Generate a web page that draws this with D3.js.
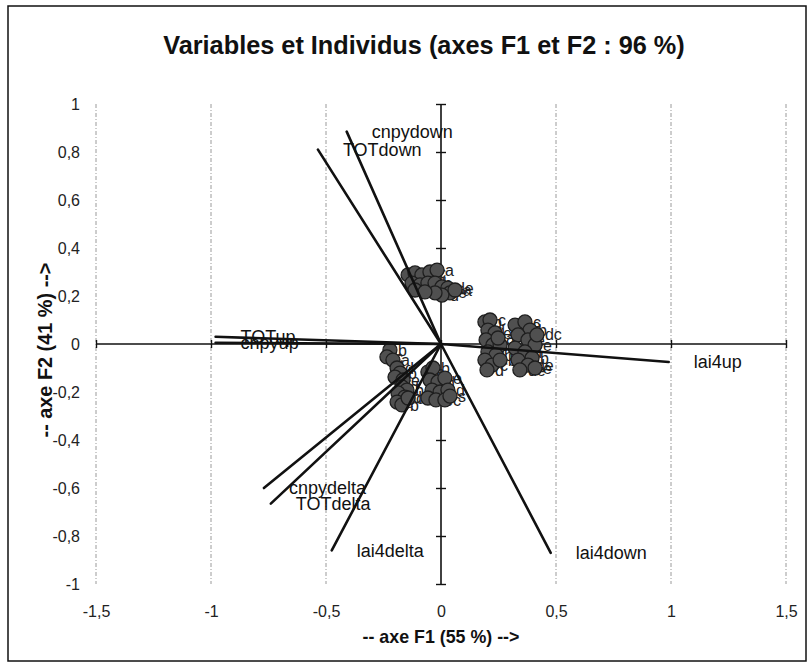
<!DOCTYPE html>
<html>
<head>
<meta charset="utf-8">
<script src="https://cdn.jsdelivr.net/npm/d3@7"></script>
<style>
  html, body { margin: 0; padding: 0; background: #fff; }
  svg { display: block; font-family: "Liberation Sans", Arial, sans-serif; }
</style>
</head>
<body>
<svg id="chart" width="812" height="667"></svg>
<script>
// Axis ticks
const xTicks = [-1.5, -1, -0.5, 0, 0.5, 1, 1.5];
const yTicks = [-1, -0.8, -0.6, -0.4, -0.2, 0, 0.2, 0.4, 0.6, 0.8, 1];

// Variables (correlation circle coordinates on F1, F2)
const varNames = ["cnpydown", "TOTdown", "TOTup", "cnpyup", "lai4up", "cnpydelta", "TOTdelta", "lai4delta", "lai4down"];
const varF1 = [-0.41, -0.535, -0.98, -0.98, 0.99, -0.77, -0.74, -0.475, 0.477];
const varF2 = [0.885, 0.81, 0.03, 0.005, -0.075, -0.60, -0.665, -0.86, -0.87];

// Individuals (scores on F1, F2) and their labels
const indF1 = [
  -0.143, -0.113, -0.083, -0.048, -0.017, -0.126, -0.091, -0.057, -0.026, 0.004, 0.030, 0.039, 0.004, -0.026, -0.113, -0.070, 0.061,
  0.191, 0.213, 0.204, 0.235, 0.196, 0.226, 0.257, 0.204, 0.239, 0.191, 0.222, 0.200, 0.257, 0.248,
  0.322, 0.365, 0.387, 0.335, 0.378, 0.409, 0.322, 0.365, 0.396, 0.335, 0.378, 0.343, 0.409, 0.417,
  -0.222, -0.235, -0.209, -0.191, -0.178, -0.200, -0.165, -0.170, -0.148, -0.187, -0.157, -0.191, -0.170, -0.143,
  -0.057, -0.035, -0.048, -0.013, 0.017, -0.039, -0.004, 0.030, -0.057, -0.022, 0.017, 0.039
];
const indF2 = [
  0.288, 0.296, 0.288, 0.300, 0.308, 0.254, 0.246, 0.254, 0.254, 0.238, 0.233, 0.213, 0.204, 0.213, 0.225, 0.217, 0.225,
  0.092, 0.100, 0.058, 0.046, 0.017, -0.004, -0.004, -0.033, -0.046, -0.067, -0.088, -0.108, -0.067, 0.025,
  0.079, 0.092, 0.058, 0.038, 0.017, -0.004, -0.017, -0.033, -0.058, -0.067, -0.088, -0.108, -0.100, 0.038,
  -0.025, -0.054, -0.067, -0.100, -0.121, -0.138, -0.150, -0.179, -0.192, -0.204, -0.221, -0.242, -0.254, -0.225,
  -0.117, -0.100, -0.150, -0.158, -0.142, -0.192, -0.200, -0.192, -0.225, -0.233, -0.233, -0.217
];
const indLab = [
  "b", "c", "b", "c", "a", "b", "c", "d", "b", "c", "de", "e", "d", "c", "b", "d", "a",
  "b", "c", "d", "e", "b", "c", "a", "d", "b", "e", "c", "d", "b", "a",
  "de", "c", "b", "d", "e", "e", "dc", "d", "b", "c", "de", "de", "e", "dc",
  "b", "c", "a", "d", "b", "c", "e", "d", "b", "c", "d", "e", "b", "c",
  "a", "b", "c", "d", "e", "b", "c", "d", "de", "e", "c", "s"
];

const svg = d3.select("#chart");
const fmt = d3.formatLocale({ decimal: ",", thousands: " ", grouping: [3], currency: ["", ""], minus: "-" }).format("");

const x = d3.scaleLinear().domain([-1.5, 1.5]).range([96, 786]);
const y = d3.scaleLinear().domain([-1, 1]).range([584, 104]);

// Outer chart frame
svg.append("rect")
  .attr("x", 8).attr("y", 6).attr("width", 798).attr("height", 655)
  .attr("fill", "none").attr("stroke", "#111").attr("stroke-width", 1.5);

// Title
const title = svg.append("text")
  .attr("x", 424).attr("y", 54)
  .attr("text-anchor", "middle")
  .attr("font-weight", "bold").attr("font-size", 20).attr("fill", "#111")
  .text("Variables et Individus (axes F1 et F2 : 96 %)");
{
  const w = title.node().getComputedTextLength();
  title.attr("font-size", 20 * 522 / w);
}

// Vertical gridlines
svg.append("g")
  .selectAll("line")
  .data(xTicks.filter(d => d !== 0))
  .join("line")
  .attr("x1", d => x(d)).attr("x2", d => x(d))
  .attr("y1", y(1)).attr("y2", y(-1))
  .attr("stroke", "#9a9a9a").attr("stroke-width", 1)
  .attr("stroke-dasharray", "4,2,1,2");

// Tick labels on the left and at the bottom
const yLab = svg.append("g")
  .attr("transform", "translate(80,0)")
  .call(d3.axisLeft(y).tickValues(yTicks).tickSize(0).tickPadding(0).tickFormat(fmt));
yLab.select(".domain").remove();
yLab.selectAll("text").attr("font-size", 16).attr("font-family", "Liberation Sans, Arial, sans-serif").attr("fill", "#222");

const xLab = svg.append("g")
  .attr("transform", "translate(0,606)")
  .call(d3.axisBottom(x).tickValues(xTicks).tickSize(0).tickPadding(0).tickFormat(fmt));
xLab.select(".domain").remove();
xLab.selectAll("text").attr("font-size", 16).attr("font-family", "Liberation Sans, Arial, sans-serif").attr("fill", "#222");

// Axes crossing at the origin, with cross-style ticks
const xAxis = svg.append("g")
  .attr("transform", `translate(0,${y(0)})`)
  .call(d3.axisBottom(x).tickValues(xTicks).tickSize(4).tickFormat(""));
xAxis.select(".domain").attr("d", `M${x(-1.5)},0H${x(1.5)}`).attr("stroke", "#111").attr("stroke-width", 1.6);
xAxis.selectAll(".tick line").attr("y1", -4).attr("y2", 4).attr("stroke", "#111").attr("stroke-width", 1.4);

const yAxis = svg.append("g")
  .attr("transform", `translate(${x(0)},0)`)
  .call(d3.axisLeft(y).tickValues(yTicks).tickSize(4).tickFormat(""));
yAxis.select(".domain").attr("d", `M0,${y(1)}V${y(-1)}`).attr("stroke", "#111").attr("stroke-width", 1.6);
yAxis.selectAll(".tick line").attr("x1", -5).attr("x2", 5).attr("stroke", "#111").attr("stroke-width", 1.4);

// Axis titles
const xt = svg.append("text")
  .attr("x", 441).attr("y", 643)
  .attr("text-anchor", "middle")
  .attr("font-weight", "bold").attr("font-size", 15).attr("fill", "#111")
  .text("-- axe F1 (55 %) -->");
{
  const w = xt.node().getComputedTextLength();
  xt.attr("font-size", 15 * 157 / w);
}
const yt = svg.append("text")
  .attr("transform", "translate(52,350) rotate(-90)")
  .attr("text-anchor", "middle")
  .attr("font-weight", "bold").attr("font-size", 15).attr("fill", "#111")
  .text("-- axe F2 (41 %) -->");
{
  const w = yt.node().getComputedTextLength();
  yt.attr("font-size", 15 * 175 / w);
}

// Individuals: labels first, then the markers drawn over them
const inds = indF1.map((v, i) => ({ f1: v, f2: indF2[i], lab: indLab[i] }));
svg.append("g")
  .selectAll("text")
  .data(inds)
  .join("text")
  .attr("x", d => x(d.f1) + 8).attr("y", d => y(d.f2))
  .attr("dy", "0.35em")
  .attr("font-size", 16).attr("fill", "#222")
  .text(d => d.lab);

svg.append("g")
  .selectAll("circle")
  .data(inds)
  .join("circle")
  .attr("cx", d => x(d.f1)).attr("cy", d => y(d.f2))
  .attr("r", 7)
  .attr("fill", "#505050").attr("stroke", "#1e1e1e").attr("stroke-width", 1.3);

// Variables: vectors from the origin, labelled at their ends
const vars = varNames.map((n, i) => ({ name: n, f1: varF1[i], f2: varF2[i] }));
svg.append("g")
  .selectAll("line")
  .data(vars)
  .join("line")
  .attr("x1", x(0)).attr("y1", y(0))
  .attr("x2", d => x(d.f1)).attr("y2", d => y(d.f2))
  .attr("stroke", "#111").attr("stroke-width", 2.6).attr("stroke-linecap", "round");

svg.append("g")
  .selectAll("text")
  .data(vars)
  .join("text")
  .attr("x", d => x(d.f1) + 25).attr("y", d => y(d.f2))
  .attr("dy", "0.35em")
  .attr("font-size", 18).attr("fill", "#111")
  .text(d => d.name);
</script>
</body>
</html>
